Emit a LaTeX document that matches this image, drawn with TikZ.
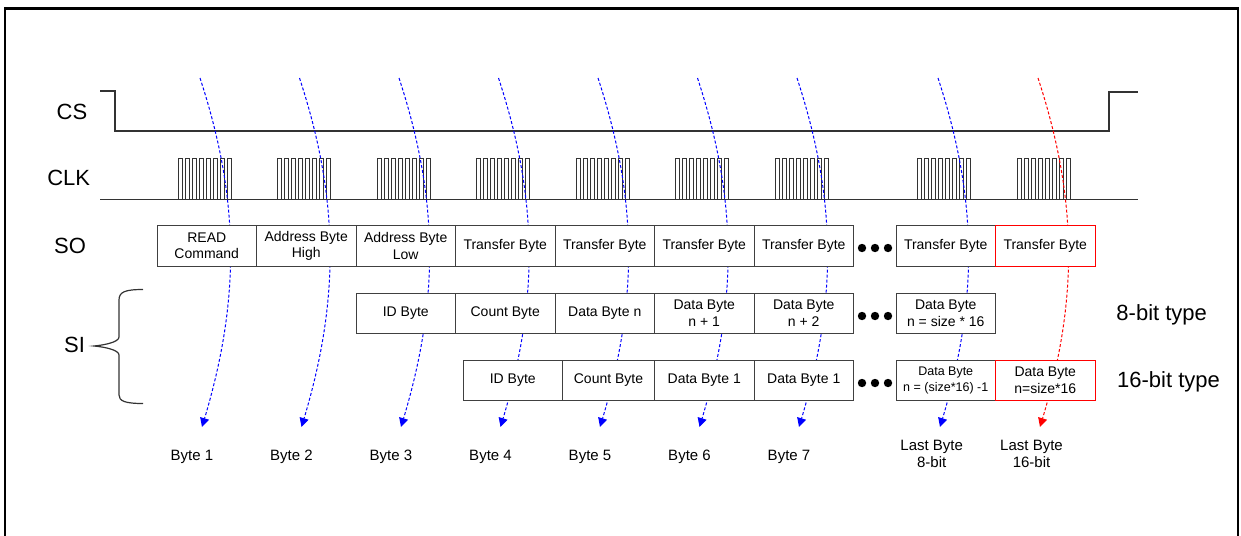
\documentclass[tikz,border=0pt]{standalone}
\usepackage{fontspec}
\setmainfont{Liberation Sans}
\usetikzlibrary{arrows.meta}
\definecolor{sigline}{rgb}{0.2,0.2,0.2}
\definecolor{boxline}{rgb}{0.25,0.25,0.25}
\definecolor{flowblue}{rgb}{0,0,1}
\definecolor{flowred}{rgb}{1,0,0}
\tikzset{
  signal/.style={draw=sigline, line width=1.2pt},
  clockline/.style={draw=sigline, line width=1pt},
  bytebox/.style={draw=boxline, fill=white, line width=1pt, inner sep=0pt, align=center,
    font=\fontsize{14}{16.5}\selectfont},
  lastbox/.style={bytebox, draw=flowred},
  sorow/.style={minimum height=40.3pt},
  eightrow/.style={minimum height=40pt},
  sixteenrow/.style={minimum height=40.7pt},
  sigtext/.style={anchor=base, inner sep=0pt, font=\fontsize{22}{26}\selectfont},
  typetext/.style={anchor=base, inner sep=0pt, font=\fontsize{22}{26}\selectfont},
  bytetext/.style={anchor=base, inner sep=0pt, align=center, font=\fontsize{15}{17.7}\selectfont},
  flow/.style={line width=1pt, dash pattern=on 3pt off 2pt, -{Triangle[width=9pt,length=9pt]}},
  dotmark/.style={fill=black},
}
\begin{document}
\begin{tikzpicture}[x=1pt,y=-1pt]
\clip (0,0) rectangle (1241,535);
% frame (open at the bottom edge)
\draw[line width=2.2pt] (5,560) -- (5,8.5) -- (1238,8.5) -- (1238,560);

% signal names
\node[sigtext] (cs)  at (72,119.3)   {CS};
\node[sigtext] (clk) at (68.7,185)   {CLK};
\node[sigtext] (so)  at (70,253.3)   {SO};
\node[sigtext] (si)  at (74.5,352.7) {SI};

% chip select
\draw[signal] (100,91) -- (115,91) -- (115,131) -- (1109,131) -- (1109,92) -- (1138,92);

% clock: baseline plus eight pulses per byte
\draw[clockline] (100,199) -- (1138,199);
\foreach \s in {178,277.5,377,476.5,576,675.5,775,917,1017}{
  \foreach \k in {0,...,7}{
    \draw[clockline, line join=miter] ({\s+7*\k},199) -- ({\s+7*\k},158) -- ({\s+7*\k+4},158) -- ({\s+7*\k+4},199);
  }
}

% byte flow arrows
\foreach \n/\x/\c in {1/200/flowblue,2/299.5/flowblue,3/399/flowblue,4/498.5/flowblue,
                      5/598/flowblue,6/697.5/flowblue,7/797/flowblue,8/938/flowblue,9/1038/flowred}{
  \coordinate (top\n) at (\x,78);
  \coordinate (tip\n) at (\x+2,427);
  \draw[flow, draw=\c] (top\n) .. controls +(40,122) and +(38,-127) .. (tip\n);
}

% SO row
\node[bytebox, sorow, minimum width=99.5pt] (so1) at (206.75,245.85) {READ\\Command};
\node[bytebox, sorow, minimum width=99.5pt] (so2) at (306.25,245.85) {Address Byte\\High};
\node[bytebox, sorow, minimum width=99.5pt] (so3) at (405.75,245.85) {Address Byte\\Low};
\node[bytebox, sorow, minimum width=99.5pt] (so4) at (505.25,245.85) {Transfer Byte};
\node[bytebox, sorow, minimum width=99.5pt] (so5) at (604.75,245.85) {Transfer Byte};
\node[bytebox, sorow, minimum width=99.5pt] (so6) at (704.25,245.85) {Transfer Byte};
\node[bytebox, sorow, minimum width=99.5pt] (so7) at (803.75,245.85) {Transfer Byte};
\node[bytebox, sorow, minimum width=99.5pt] (so8) at (945.75,245.85) {Transfer Byte};
\node[lastbox, sorow, minimum width=99.5pt] (so9) at (1045.25,245.85) {Transfer Byte};

% SI row, 8-bit type
\node[bytebox, eightrow, minimum width=99.5pt] (e1) at (405.75,313.3) {ID Byte};
\node[bytebox, eightrow, minimum width=99.5pt] (e2) at (505.25,313.3) {Count Byte};
\node[bytebox, eightrow, minimum width=99.5pt] (e3) at (604.75,313.3) {Data Byte n};
\node[bytebox, eightrow, minimum width=99.5pt] (e4) at (704.25,313.3) {Data Byte\\n + 1};
\node[bytebox, eightrow, minimum width=99.5pt] (e5) at (803.75,313.3) {Data Byte\\n + 2};
\node[bytebox, eightrow, minimum width=99.5pt] (e6) at (945.75,313.3) {Data Byte\\n = size * 16};

% SI row, 16-bit type
\node[bytebox, sixteenrow, minimum width=99.5pt] (s1) at (512.75,380.35) {ID Byte};
\node[bytebox, sixteenrow, minimum width=92pt]   (s2) at (608.5,380.35) {Count Byte};
\node[bytebox, sixteenrow, minimum width=99.5pt] (s3) at (704.25,380.35) {Data Byte 1};
\node[bytebox, sixteenrow, minimum width=99.5pt] (s4) at (803.75,380.35) {Data Byte 1};
\node[bytebox, sixteenrow, minimum width=99.5pt, font=\fontsize{12.5}{16}\selectfont] (s5) at (945.75,380.35) {Data Byte\\n = (size*16) -1};
\node[lastbox, sixteenrow, minimum width=99.5pt] (s6) at (1045.25,380.35) {Data Byte\\n=size*16};

% ellipsis dots between the columns
\foreach \y in {248,316,383}{
  \foreach \x in {862,875,888}{
    \fill[dotmark] (\x,\y) circle (4.2pt);
  }
}

% brace grouping the two SI rows
\draw[draw=sigline, line width=1.2pt] (143,289.5) .. controls (125,289.5) and (119,292) .. (119,300)
  -- (119,337) .. controls (119,342) and (105,345) .. (94,346)
  .. controls (105,347) and (119,350) .. (119,355)
  -- (119,395) .. controls (119,401) and (125,403.5) .. (143,403.5);

% row type names
\node[typetext] (t8)  at (1161.7,320)   {8-bit type};
\node[typetext] (t16) at (1168.5,387.3) {16-bit type};

% byte names under the arrows
\node[bytetext] (b1) at (192,460)   {Byte 1};
\node[bytetext] (b2) at (291.5,460) {Byte 2};
\node[bytetext] (b3) at (391,460)   {Byte 3};
\node[bytetext] (b4) at (490.5,460) {Byte 4};
\node[bytetext] (b5) at (590,460)   {Byte 5};
\node[bytetext] (b6) at (689.5,460) {Byte 6};
\node[bytetext] (b7) at (789,460)   {Byte 7};
\node[bytetext] (b8) at (931.7,467.7) {Last Byte\\8-bit};
\node[bytetext] (b9) at (1031.5,467.7) {Last Byte\\16-bit};
\end{tikzpicture}
\end{document}
